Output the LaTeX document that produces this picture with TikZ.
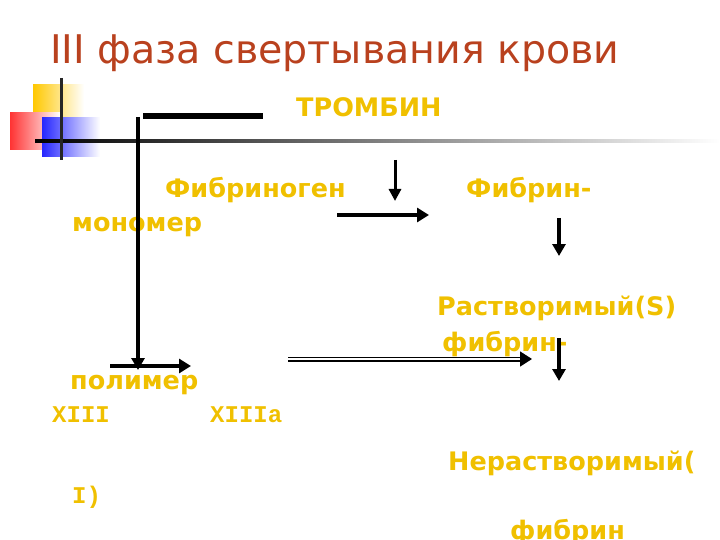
\documentclass[tikz,border=0pt]{standalone}
\usepackage{fontspec}
\setmainfont{DejaVu Sans}
\newfontfamily\monob{Liberation Mono}
\usetikzlibrary{arrows.meta}
\definecolor{gold}{RGB}{240,192,0}
\definecolor{titlered}{RGB}{185,65,30}
\definecolor{decoy}{RGB}{255,200,0}
\begin{document}
\begin{tikzpicture}[x=1pt,y=-1pt,
  lbl/.style={text=gold,font=\fontsize{25.5}{27}\selectfont\bfseries,anchor=base west,inner sep=0},
  mlbl/.style={text=gold,font=\fontsize{24}{26}\selectfont\monob\bfseries,anchor=base west,inner sep=0},
  arr/.style={line width=4.5pt,-{Triangle[length=12pt,width=14pt]}},
  thin/.style={line width=3pt,-{Triangle[length=12pt,width=12pt]}}]
\useasboundingbox (0,0) rectangle (720,540);
% decoration
\fill[left color=decoy,right color=white] (33,85) rectangle (84,117);
\fill[left color=red!80,right color=white] (10,113) rectangle (60,150);
\fill[left color=blue!85,right color=white] (42,118) rectangle (100,157);
\fill[left color=black,right color=white] (35,139.5) rectangle (720,142.5);
\draw[line width=3pt,black!85] (61,78) -- (61,160);
% title
\node[text=titlered,font=\fontsize{39.5}{44}\selectfont,anchor=base west,inner sep=0] (title) at (50,64) {III фаза свертывания крови};
% labels
\node[lbl] (thr) at (296,117) {ТРОМБИН};
\node[lbl] (fng) at (165,198) {Фибриноген};
\node[lbl] (mon) at (72,232) {мономер};
\node[lbl] (fb1) at (466,198) {Фибрин-};
\node[lbl] (sol) at (437,315) {Растворимый(S)};
\node[lbl] (fb2) at (442,351) {фибрин-};
\node[lbl] (pol) at (70,389) {полимер};
\node[mlbl] (x13) at (52,422) {XIII};
\node[mlbl] (x13a) at (210,422) {XIIIa};
\node[lbl] (ins) at (448,470) {Нерастворимый(};
\node[mlbl] (i) at (72,503) {I)};
\node[lbl] (fb3) at (510,539) {фибрин};
% connectors
\coordinate (h1) at (143,116); \coordinate (h2) at (263,116);
\draw[line width=5.5pt] (h1) -- (h2);
\coordinate (v1) at (138,117); \coordinate (v2) at (138,370);
\draw[line width=3.5pt,-{Triangle[length=12pt,width=13pt]}] (v1) -- (v2);
\coordinate (a1) at (395,160); \coordinate (a2) at (395,201);
\draw[thin] (a1) -- (a2);
\coordinate (b1) at (337,215); \coordinate (b2) at (429,215);
\draw[arr] (b1) -- (b2);
\coordinate (c1) at (559,218); \coordinate (c2) at (559,256);
\draw[line width=4pt,-{Triangle[length=12pt,width=13pt]}] (c1) -- (c2);
\coordinate (d1) at (110,366); \coordinate (d2) at (191,366);
\draw[arr] (d1) -- (d2);
\coordinate (e1) at (288,359); \coordinate (e2) at (532,359);
\draw[double,double distance=2pt,line width=1.5pt,-{Triangle[length=12pt,width=15pt]}] (e1) -- (e2);
\coordinate (f1) at (559,338); \coordinate (f2) at (559,381);
\draw[line width=4pt,-{Triangle[length=12pt,width=13pt]}] (f1) -- (f2);
\end{tikzpicture}
\end{document}
